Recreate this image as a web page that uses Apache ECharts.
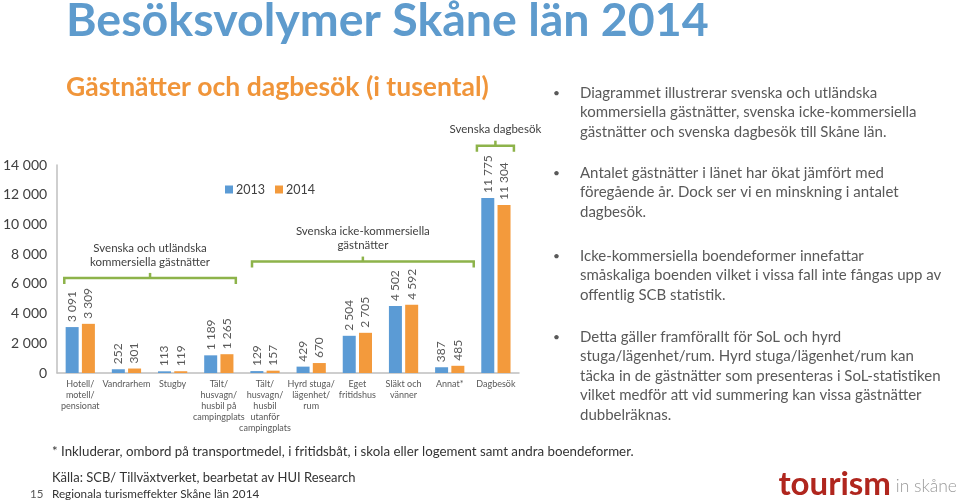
<!DOCTYPE html>
<html><head><meta charset="utf-8">
<script src="https://cdn.jsdelivr.net/npm/echarts@6/dist/echarts.min.js"></script>
<style>html,body{margin:0;padding:0;background:#fff}#c{width:960px;height:502px}</style>
</head><body><div id="c"></div>
<script>
const categories = ['Hotell/\nmotell/\npensionat','Vandrarhem','Stugby','Tält/\nhusvagn/\nhusbil på\ncampingplats','Tält/\nhusvagn/\nhusbil\nutanför\ncampingplats','Hyrd stuga/\nlägenhet/\nrum','Eget\nfritidshus','Släkt och\nvänner','Annat*','Dagbesök'];
const values2013 = [3091, 252, 113, 1189, 129, 429, 2504, 4502, 387, 11775];
const values2014 = [3309, 301, 119, 1265, 157, 670, 2705, 4592, 485, 11304];
const seriesNames = ['2013', '2014'];
const bullets = [
  ['Diagrammet illustrerar svenska och utländska','kommersiella gästnätter, svenska icke-kommersiella','gästnätter och svenska dagbesök till Skåne län.'],
  ['Antalet gästnätter i länet har ökat jämfört med','föregående år. Dock ser vi en minskning i antalet','dagbesök.'],
  ['Icke-kommersiella boendeformer innefattar','småskaliga boenden vilket i vissa fall inte fångas upp av','offentlig SCB statistik.'],
  ['Detta gäller framförallt för SoL och hyrd','stuga/lägenhet/rum. Hyrd stuga/lägenhet/rum kan','täcka in de gästnätter som presenteras i SoL-statistiken','vilket medför att vid summering kan vissa gästnätter','dubbelräknas.']
];
const bulletTops = [93, 173, 256, 337];
const groups = [
  {text:'Svenska och utländska\nkommersiella gästnätter', from:0, to:3, offL:-16, offR:17, level:6400},
  {text:'Svenska icke-kommersiella\ngästnätter', from:4, to:8, offL:-13, offR:24, level:7500},
  {text:'Svenska dagbesök', from:9, to:9, offL:-19, offR:18, level:15300}
];

const FONT = 'Lato';
const fmt = v => String(v).replace(/\B(?=(\d{3})+(?!\d))/g, ' ');
const chart = echarts.init(document.getElementById('c'));
const lbl = {show:true, position:'top', rotate:90, align:'left', verticalAlign:'middle', distance:5,
  fontSize:12, color:'#595959', fontFamily:FONT, formatter:p=>fmt(p.value)};

chart.setOption({
  animation:false,
  textStyle:{fontFamily:FONT},
  legend:{data:seriesNames, left:220, top:178, itemWidth:8, itemHeight:8, itemGap:10,
    textStyle:{fontSize:12.5, color:'#404040', fontFamily:FONT, padding:[0,0,0,-2]}, icon:'rect'},
  grid:{left:52, right:441, top:165, bottom:129},
  xAxis:{type:'category', data:categories,
    axisLine:{lineStyle:{color:'#bfbfbf', width:1.5}}, axisTick:{show:false},
    axisLabel:{interval:0, fontSize:9, lineHeight:11, color:'#595959', margin:6, fontFamily:FONT}},
  yAxis:{type:'value', min:0, max:14000, interval:2000,
    axisLine:{show:true, lineStyle:{color:'#bfbfbf', width:1.5}}, axisTick:{show:false},
    splitLine:{show:false},
    axisLabel:{fontSize:14, color:'#404040', margin:10, formatter:fmt, fontFamily:FONT}},
  series:[
    {name:seriesNames[0], type:'bar', data:values2013, barWidth:13, barGap:'25%', itemStyle:{color:'#5B9BD5'}, label:lbl},
    {name:seriesNames[1], type:'bar', data:values2014, barWidth:13, itemStyle:{color:'#F39A3C'}, label:lbl}
  ]
});

const g = [];
g.push({type:'text', x:66, y:21, style:{text:'Besöksvolymer Skåne län 2014', fontSize:46.5, fontWeight:'bold', fill:'#5E9BCD', verticalAlign:'middle', fontFamily:FONT}});
g.push({type:'text', x:66, y:87, style:{text:'Gästnätter och dagbesök (i tusental)', fontSize:26.5, fontWeight:'bold', fill:'#F0953A', verticalAlign:'middle', fontFamily:FONT}});
groups.forEach(gr => {
  const xl = chart.convertToPixel({xAxisIndex:0}, gr.from) + gr.offL;
  const xr = chart.convertToPixel({xAxisIndex:0}, gr.to) + gr.offR;
  const y = chart.convertToPixel({yAxisIndex:0}, gr.level);
  const xc = (xl + xr) / 2;
  g.push({type:'polyline', shape:{points:[[xl,y+6],[xl,y],[xr,y],[xr,y+6]]}, style:{stroke:'#8DB34A', lineWidth:2.5, fill:null}});
  g.push({type:'line', shape:{x1:xc,y1:y,x2:xc,y2:y-5}, style:{stroke:'#8DB34A', lineWidth:2.5}});
  g.push({type:'text', x:xc, y:y-9, style:{text:gr.text, fontSize:11.5, lineHeight:14, fill:'#404040', align:'center', verticalAlign:'bottom', fontFamily:FONT}});
});
bullets.forEach((lines, i) => {
  g.push({type:'text', x:553, y:bulletTops[i], style:{text:'•', fontSize:12, fill:'#595959', verticalAlign:'middle', fontFamily:FONT}});
  lines.forEach((t, j) => {
    g.push({type:'text', x:580, y:bulletTops[i] + j*19.5, style:{text:t, fontSize:15, fill:'#595959', verticalAlign:'middle', fontFamily:FONT}});
  });
});
g.push({type:'text', x:52, y:452, style:{text:'* Inkluderar, ombord på transportmedel, i fritidsbåt, i skola eller logement samt andra boendeformer.', fontSize:13.3, fill:'#333', verticalAlign:'middle', fontFamily:FONT}});
g.push({type:'text', x:52, y:478, style:{text:'Källa: SCB/ Tillväxtverket, bearbetat av HUI Research', fontSize:13, fill:'#333', verticalAlign:'middle', fontFamily:FONT}});
g.push({type:'text', x:52, y:494, style:{text:'Regionala turismeffekter Skåne län 2014', fontSize:11.7, fill:'#333', verticalAlign:'middle', fontFamily:FONT}});
g.push({type:'text', x:30, y:494, style:{text:'15', fontSize:11.5, fill:'#595959', verticalAlign:'middle', fontFamily:FONT}});
g.push({type:'text', x:957, y:484, style:{text:'{a|tourism}{b| in skåne}', align:'right', verticalAlign:'middle',
  rich:{a:{fontSize:33, fontWeight:'bold', fill:'#B0261E', fontFamily:FONT}, b:{fontSize:17.5, fill:'#9a9a9a', fontWeight:300, fontFamily:FONT, padding:[5,0,0,0]}}}});
chart.setOption({graphic:g});
</script></body></html>
